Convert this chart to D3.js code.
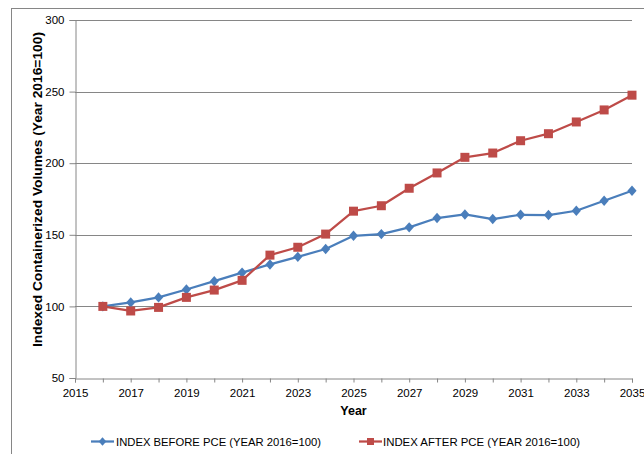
<!DOCTYPE html>
<html>
<head>
<meta charset="utf-8">
<script src="https://cdn.jsdelivr.net/npm/d3@7"></script>
<style>
  html, body { margin: 0; padding: 0; background: #fff; }
  svg { display: block; font-family: "Liberation Sans", Arial, sans-serif; }
</style>
</head>
<body>
<svg id="chart" width="644" height="454"></svg>
<script>
// Containerized volume index, year 2016 = 100
const years = d3.range(2016, 2036);
const indexBefore = [100, 102.8, 106.3, 111.8, 117.6, 123.6, 129.3, 134.6, 140.1, 149.3,
                     150.5, 155.2, 161.7, 164.2, 161.0, 164.0, 163.8, 166.8, 173.8, 180.8];
const indexAfter  = [100, 96.8, 99.3, 106.3, 111.4, 118.2, 135.8, 141.3, 150.5, 166.5,
                     170.3, 182.5, 193.2, 204.1, 207.1, 215.7, 220.6, 228.8, 237.2, 247.5];
const seriesNames = ["INDEX BEFORE PCE (YEAR 2016=100)", "INDEX AFTER PCE (YEAR 2016=100)"];
const yTicks = [50, 100, 150, 200, 250, 300];
const xLabelYears = d3.range(2015, 2036, 2);

const svg = d3.select("#chart");
const plot = { left: 75, right: 632, top: 20, bottom: 378 };

const x = d3.scaleLinear().domain([2015, 2035]).range([plot.left, plot.right]);
const y = d3.scaleLinear().domain([50, 300]).range([plot.bottom, plot.top]);

const axisColor = "#868686";
const colors = ["#4a7ebb", "#be4b48"];

// diamond marker with its own proportions (half-width w, half-height h)
const diamondShape = (w, h) => ({
  draw(ctx) {
    ctx.moveTo(0, -h); ctx.lineTo(w, 0); ctx.lineTo(0, h); ctx.lineTo(-w, 0); ctx.closePath();
  }
});

// outer chart frame
svg.append("rect")
  .attr("x", 11.5).attr("y", 8.5)
  .attr("width", 640).attr("height", 460)
  .attr("fill", "none").attr("stroke", axisColor).attr("stroke-width", 1);

// horizontal gridlines
svg.append("g").selectAll("line")
  .data(yTicks.filter(d => d > 50))
  .join("line")
  .attr("x1", plot.left).attr("x2", plot.right)
  .attr("y1", d => Math.round(y(d)) + 0.5).attr("y2", d => Math.round(y(d)) + 0.5)
  .attr("stroke", axisColor).attr("stroke-width", 1);

// y axis
const yAxis = svg.append("g")
  .attr("transform", `translate(${plot.left + 0.5},0)`)
  .call(d3.axisLeft(y).tickValues(yTicks).tickSize(6).tickPadding(5));
yAxis.select(".domain").attr("stroke", axisColor);
yAxis.selectAll(".tick line").attr("stroke", axisColor);
yAxis.selectAll(".tick text").attr("font-size", 11.5).attr("fill", "#000")
  .attr("font-family", "Liberation Sans, Arial, sans-serif");

// x axis: a tick every year, a label every other year
const xAxis = svg.append("g")
  .attr("transform", `translate(0,${Math.round(y(50)) + 0.5})`)
  .call(d3.axisBottom(x).tickValues(d3.range(2015, 2036)).tickSize(4).tickPadding(6.5)
    .tickFormat(d => xLabelYears.includes(d) ? String(d) : ""));
xAxis.select(".domain").attr("stroke", axisColor);
xAxis.selectAll(".tick line").attr("stroke", axisColor);
xAxis.selectAll(".tick text").attr("font-size", 11.5).attr("fill", "#000")
  .attr("font-family", "Liberation Sans, Arial, sans-serif");

// axis titles
svg.append("text")
  .attr("x", (plot.left + plot.right) / 2).attr("y", 415)
  .attr("text-anchor", "middle").attr("font-size", 12.5).attr("font-weight", "bold")
  .text("Year");
svg.append("text")
  .attr("transform", "translate(41.5,189.5) rotate(-90)")
  .attr("text-anchor", "middle").attr("font-size", 13).attr("font-weight", "bold")
  .attr("textLength", 315).attr("lengthAdjust", "spacingAndGlyphs")
  .text("Indexed Containerized Volumes (Year 2016=100)");

const line = d3.line().x((d, i) => x(years[i])).y(d => y(d));
const diamond = d3.symbol().type(diamondShape(4.6, 5.2));
const square = d3.symbol().type(d3.symbolSquare).size(81);

[indexBefore, indexAfter].forEach((vals, k) => {
  const g = svg.append("g");
  g.append("path").datum(vals)
    .attr("d", line).attr("fill", "none")
    .attr("stroke", colors[k]).attr("stroke-width", 2.25)
    .attr("stroke-linejoin", "round");
  g.selectAll("path.m").data(vals).join("path")
    .attr("class", "m")
    .attr("transform", (d, i) => `translate(${x(years[i])},${y(d)})`)
    .attr("d", k === 0 ? diamond : square)
    .attr("fill", colors[k]);
});

// legend
const legendItems = [
  { x: 91, name: seriesNames[0], len: 205 },
  { x: 359, name: seriesNames[1], len: 197 }
];
legendItems.forEach((it, k) => {
  const g = svg.append("g").attr("transform", `translate(${it.x},441.5)`);
  g.append("line").attr("x1", 0).attr("x2", 23).attr("y1", 0).attr("y2", 0)
    .attr("stroke", colors[k]).attr("stroke-width", 2.25);
  g.append("path").attr("transform", "translate(11.5,0)")
    .attr("d", k === 0 ? d3.symbol().type(diamondShape(3.8, 4.2))() : d3.symbol().type(d3.symbolSquare).size(49)())
    .attr("fill", colors[k]);
  g.append("text").attr("x", it.x === 91 ? 25 : 24).attr("y", 4.3).attr("font-size", 11.5)
    .attr("textLength", it.len).attr("lengthAdjust", "spacingAndGlyphs")
    .text(it.name);
});
</script>
</body>
</html>
